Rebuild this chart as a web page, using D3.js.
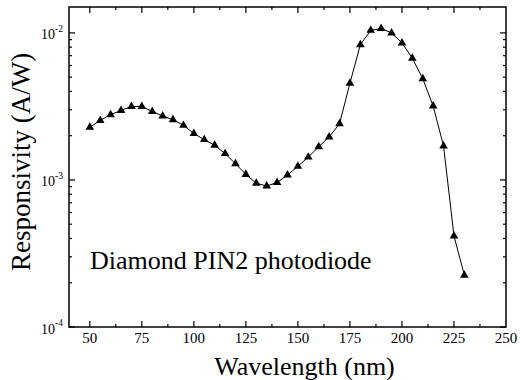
<!DOCTYPE html>
<html>
<head>
<meta charset="utf-8">
<script src="https://cdn.jsdelivr.net/npm/d3@7"></script>
<style>
  body { margin: 0; background: #fff; }
  svg { display: block; }
  svg text { font-family: 'Liberation Serif', 'Times New Roman', 'DejaVu Serif', serif; }
</style>
</head>
<body>
<svg id="chart" width="520" height="380"></svg>
<script>
const wavelength = [50, 55, 60, 65, 70, 75, 80, 85, 90, 95, 100, 105, 110, 115, 120, 125, 130,
  135, 140, 145, 150, 155, 160, 165, 170, 175, 180, 185, 190, 195, 200, 205, 210, 215, 220, 225, 230];
const responsivity = [2.28e-3, 2.54e-3, 2.78e-3, 2.97e-3, 3.16e-3, 3.16e-3, 2.92e-3, 2.72e-3, 2.57e-3,
  2.35e-3, 2.07e-3, 1.88e-3, 1.72e-3, 1.51e-3, 1.29e-3, 1.09e-3, 9.5e-4,
  9.1e-4, 9.6e-4, 1.08e-3, 1.24e-3, 1.43e-3, 1.68e-3, 1.96e-3, 2.41e-3, 4.55e-3, 8.3e-3,
  1.04e-2, 1.07e-2, 1.0e-2, 8.55e-3, 6.73e-3, 4.88e-3, 3.18e-3, 1.70e-3, 4.16e-4, 2.25e-4];
const xTicks = [50, 75, 100, 125, 150, 175, 200, 225, 250];
const yDecades = [-4, -3, -2];

const data = wavelength.map((w, i) => ({ w, r: responsivity[i] }));

const margin = { top: 7, right: 14, bottom: 53, left: 69 };
const width = 520, height = 380;
const serif = 'Liberation Serif, Times New Roman, DejaVu Serif, serif';

const svg = d3.select('#chart').attr('font-family', serif);

const x = d3.scaleLinear()
  .domain([40, 250])
  .range([margin.left, width - margin.right]);

const y = d3.scaleLog()
  .domain([1e-4, 1.5e-2])
  .range([height - margin.bottom, margin.top]);

const x0 = margin.left, x1 = width - margin.right;
const y0 = height - margin.bottom, y1 = margin.top;

// minor ticks
const xMinor = d3.range(62.5, 250, 25);
const yMinor = [];
yDecades.forEach(e => {
  for (let k = 2; k <= 9; k++) {
    const v = k * Math.pow(10, e);
    if (v < y.domain()[1]) yMinor.push(v);
  }
});

const ticks = svg.append('g').attr('stroke', '#000').attr('stroke-width', 1.2);

// x ticks (bottom and top, inward)
xTicks.filter(d => d < 250).forEach(d => {
  ticks.append('line').attr('x1', x(d)).attr('x2', x(d)).attr('y1', y0).attr('y2', y0 - 6);
  ticks.append('line').attr('x1', x(d)).attr('x2', x(d)).attr('y1', y1).attr('y2', y1 + 6);
});
xMinor.forEach(d => {
  ticks.append('line').attr('x1', x(d)).attr('x2', x(d)).attr('y1', y0).attr('y2', y0 - 3);
  ticks.append('line').attr('x1', x(d)).attr('x2', x(d)).attr('y1', y1).attr('y2', y1 + 3);
});

// y ticks (left and right, inward)
yDecades.forEach(e => {
  const v = Math.pow(10, e);
  ticks.append('line').attr('x1', x0).attr('x2', x0 + 6).attr('y1', y(v)).attr('y2', y(v));
  ticks.append('line').attr('x1', x1).attr('x2', x1 - 6).attr('y1', y(v)).attr('y2', y(v));
});
yMinor.forEach(v => {
  ticks.append('line').attr('x1', x0).attr('x2', x0 + 3).attr('y1', y(v)).attr('y2', y(v));
  ticks.append('line').attr('x1', x1).attr('x2', x1 - 3).attr('y1', y(v)).attr('y2', y(v));
});

// frame
svg.append('rect')
  .attr('x', x0).attr('y', y1)
  .attr('width', x1 - x0).attr('height', y0 - y1)
  .attr('fill', 'none').attr('stroke', '#000').attr('stroke-width', 1.5);

// x tick labels
svg.append('g')
  .selectAll('text')
  .data(xTicks)
  .join('text')
  .attr('x', d => x(d))
  .attr('y', y0 + 16)
  .attr('text-anchor', 'middle')
  .attr('font-size', 15)
  .text(d => d);

// y tick labels with superscript
const yLab = svg.append('g')
  .selectAll('text')
  .data(yDecades)
  .join('text')
  .attr('x', x0 - 6)
  .attr('y', d => y(Math.pow(10, d)) + 6.5)
  .attr('text-anchor', 'end')
  .attr('font-size', 14);
yLab.append('tspan').text('10');
yLab.append('tspan')
  .attr('dy', -7.5)
  .attr('font-size', 9.5)
  .text(d => '-' + Math.abs(d));

// line and markers
const line = d3.line()
  .x(d => x(d.w))
  .y(d => y(d.r));

svg.append('path')
  .datum(data)
  .attr('fill', 'none')
  .attr('stroke', '#000')
  .attr('stroke-width', 1)
  .attr('d', line);

svg.append('g')
  .selectAll('path')
  .data(data)
  .join('path')
  .attr('transform', d => `translate(${x(d.w)},${y(d.r)})`)
  .attr('d', d3.symbol(d3.symbolTriangle, 32))
  .attr('fill', '#000');

// annotation
svg.append('text')
  .attr('x', 90)
  .attr('y', 269)
  .attr('font-size', 26)
  .text('Diamond PIN2 photodiode');

// axis titles
svg.append('text')
  .attr('x', (x0 + x1) / 2 + 17)
  .attr('y', 375)
  .attr('text-anchor', 'middle')
  .attr('font-size', 26)
  .text('Wavelength (nm)');

svg.append('text')
  .attr('transform', 'translate(30,162) rotate(-90)')
  .attr('text-anchor', 'middle')
  .attr('font-size', 27)
  .text('Responsivity (A/W)');
</script>
</body>
</html>
